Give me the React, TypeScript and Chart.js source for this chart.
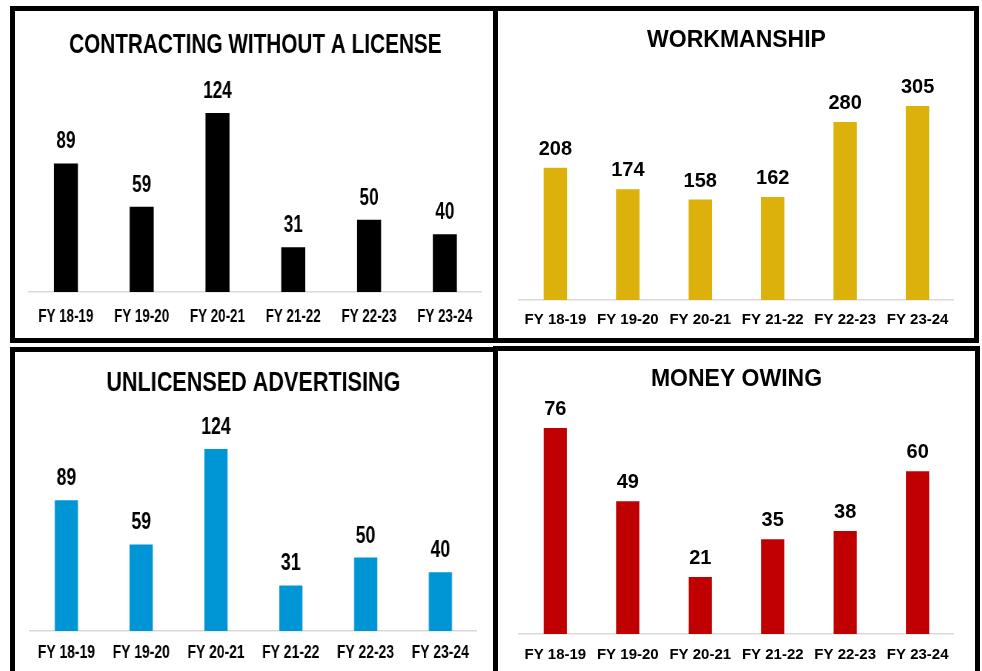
import React, { useEffect, useRef } from 'react';
import { Chart, registerables } from 'chart.js';

Chart.register(...registerables);

const FONT = "'Liberation Sans', Arial, sans-serif";

const categories = ['FY 18-19', 'FY 19-20', 'FY 20-21', 'FY 21-22', 'FY 22-23', 'FY 23-24'];
const contractingValues = [89, 59, 124, 31, 50, 40];
const workmanshipValues = [208, 174, 158, 162, 280, 305];
const advertisingValues = [89, 59, 124, 31, 50, 40];
const moneyOwingValues = [76, 49, 21, 35, 38, 60];

type PanelProps = {
  title: string;
  values: number[];
  color: string;
  yMax: number;
  x: number;
  y: number;
  w: number;
  h: number;
  sx: number;
  titleSize: number;
  titlePadTop: number;
  titlePadBottom: number;
  tickSize: number;
  tickPad: number;
  axisH: number;
  valueSize: number;
  valueGap: number;
  barPct: number;
};

function BarPanel(p: PanelProps) {
  const ref = useRef<HTMLCanvasElement>(null);
  useEffect(() => {
    if (!ref.current) return;
    const valueLabels = {
      id: 'valueLabels',
      afterDatasetsDraw(chart: any) {
        const ctx = chart.ctx;
        const meta = chart.getDatasetMeta(0);
        ctx.save();
        ctx.font = `bold ${p.valueSize}px ${FONT}`;
        ctx.fillStyle = '#000';
        ctx.textAlign = 'center';
        ctx.textBaseline = 'alphabetic';
        meta.data.forEach((el: any, i: number) => {
          ctx.fillText(String(p.values[i]), el.x, el.y - p.valueGap);
        });
        ctx.restore();
      },
    };
    const chart = new Chart(ref.current, {
      type: 'bar',
      data: {
        labels: categories,
        datasets: [
          {
            data: p.values,
            backgroundColor: p.color,
            barPercentage: p.barPct,
            categoryPercentage: 1,
          },
        ],
      },
      options: {
        animation: false,
        responsive: true,
        maintainAspectRatio: false,
        layout: { padding: 0 },
        plugins: {
          legend: { display: false },
          tooltip: { enabled: false },
          title: {
            display: true,
            text: p.title,
            color: '#000',
            font: { family: FONT, size: p.titleSize, weight: 'bold', lineHeight: 1.2 },
            padding: { top: p.titlePadTop, bottom: p.titlePadBottom },
          },
        },
        scales: {
          x: {
            grid: { display: false, drawTicks: false },
            border: { display: true, color: '#d9d9d9', width: 1.5 },
            ticks: {
              color: '#000',
              font: { family: FONT, size: p.tickSize, weight: 'bold', lineHeight: 1.2 },
              padding: p.tickPad,
              maxRotation: 0,
              minRotation: 0,
              autoSkip: false,
            },
            afterFit: (s: any) => {
              s.height = p.axisH;
            },
          },
          y: { display: false, min: 0, max: p.yMax },
        },
      },
      plugins: [valueLabels],
    } as any);
    return () => chart.destroy();
  }, []);
  const innerW = p.w / p.sx;
  return (
    <div style={{ position: 'absolute', left: p.x, top: p.y, width: p.w, height: p.h }}>
      <div
        style={{
          position: 'absolute',
          left: 0,
          top: 0,
          width: innerW,
          height: p.h,
          transform: `scaleX(${p.sx})`,
          transformOrigin: '0 0',
        }}
      >
        <canvas ref={ref} />
      </div>
    </div>
  );
}

const borderStyle = (left: number, top: number, width: number, height: number): React.CSSProperties => ({
  position: 'absolute',
  left,
  top,
  width,
  height,
  border: '5px solid #000',
  boxSizing: 'border-box',
  background: '#fff',
});

export default function App() {
  return (
    <div
      style={{
        position: 'fixed',
        left: 0,
        top: 0,
        width: 982,
        height: 671,
        overflow: 'hidden',
        background: '#fff',
      }}
    >
      <div style={borderStyle(10, 6, 488, 337)} />
      <div style={borderStyle(493, 6, 486, 337)} />
      <div style={borderStyle(10, 347, 488, 340)} />
      <div style={borderStyle(493, 346, 487, 340)} />

      <BarPanel
        title="CONTRACTING WITHOUT A LICENSE"
        values={contractingValues}
        color="#000000"
        yMax={150}
        x={28}
        y={11}
        w={454}
        h={328}
        sx={0.74}
        titleSize={28}
        titlePadTop={17.2}
        titlePadBottom={13.6}
        tickSize={18}
        tickPad={14}
        axisH={47}
        valueSize={23}
        valueGap={15}
        barPct={0.317}
      />
      <BarPanel
        title="WORKMANSHIP"
        values={workmanshipValues}
        color="#DDB10C"
        yMax={350}
        x={514}
        y={11}
        w={445}
        h={327}
        sx={1}
        titleSize={23}
        titlePadTop={16}
        titlePadBottom={22.8}
        tickSize={15}
        tickPad={11}
        axisH={38}
        valueSize={20}
        valueGap={13}
        barPct={0.323}
      />
      <BarPanel
        title="UNLICENSED ADVERTISING"
        values={advertisingValues}
        color="#0096D6"
        yMax={150}
        x={29}
        y={352}
        w={448}
        h={319}
        sx={0.77}
        titleSize={28}
        titlePadTop={14.2}
        titlePadBottom={11}
        tickSize={18}
        tickPad={11}
        axisH={40}
        valueSize={23}
        valueGap={15}
        barPct={0.31}
      />
      <BarPanel
        title="MONEY OWING"
        values={moneyOwingValues}
        color="#C00000"
        yMax={85}
        x={513}
        y={351}
        w={447}
        h={320}
        sx={1}
        titleSize={23}
        titlePadTop={14.5}
        titlePadBottom={10.5}
        tickSize={15}
        tickPad={12}
        axisH={37}
        valueSize={20}
        valueGap={13}
        barPct={0.32}
      />
    </div>
  );
}
